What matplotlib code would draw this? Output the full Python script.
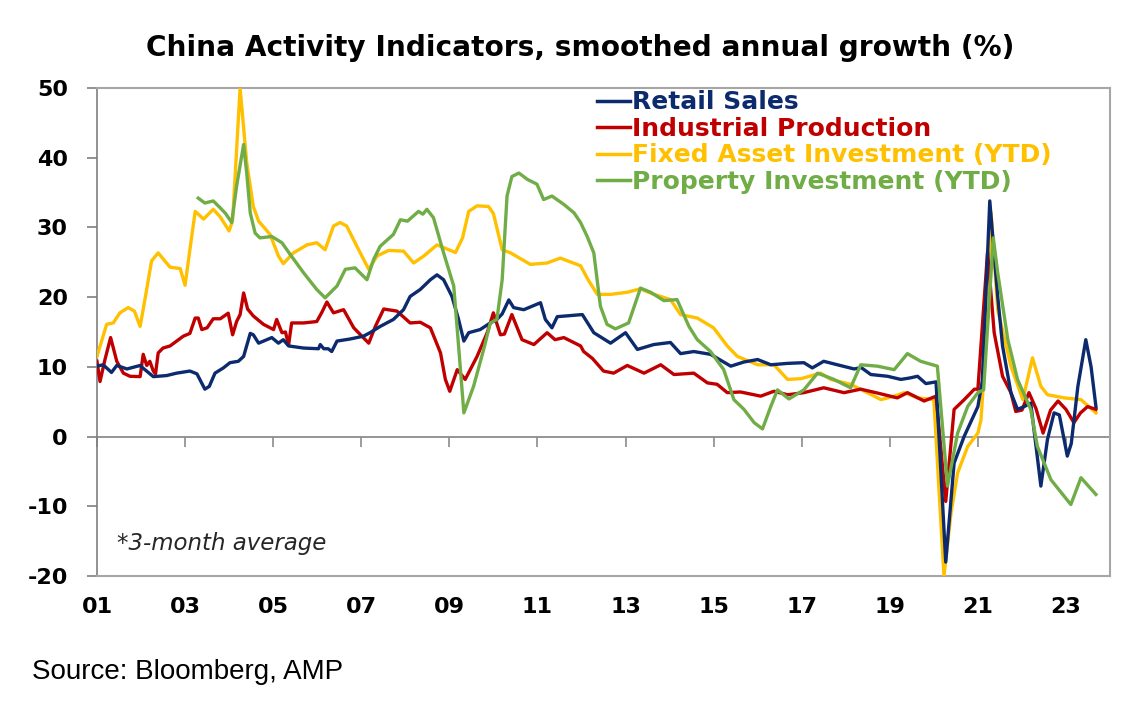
import matplotlib
matplotlib.use('Agg')
import matplotlib.pyplot as plt

plt.rcParams['font.family'] = ['Liberation Sans', 'DejaVu Sans']
plt.rcParams['axes.unicode_minus'] = False

# ---- data (decimal years, % y/y) ----
retail_t = [2001.0, 2001.14, 2001.33, 2001.45, 2001.68, 2001.98, 2002.05, 2002.28, 2002.58, 2002.81,
            2003.11, 2003.27, 2003.45, 2003.55, 2003.68, 2003.87, 2004.02, 2004.21, 2004.33, 2004.48,
            2004.55, 2004.67, 2004.97, 2005.12, 2005.23, 2005.35, 2005.69, 2006.03, 2006.07, 2006.15,
            2006.25, 2006.33, 2006.45, 2006.75, 2007.05, 2007.2, 2007.43, 2007.73, 2007.96, 2008.11,
            2008.34, 2008.57, 2008.72, 2008.87, 2009.06, 2009.21, 2009.33, 2009.44, 2009.7, 2009.93,
            2010.08, 2010.2, 2010.35, 2010.46, 2010.69, 2011.07, 2011.18, 2011.33, 2011.45, 2012.02,
            2012.28, 2012.66, 2013.0, 2013.27, 2013.64, 2014.02, 2014.25, 2014.55, 2014.93, 2015.39,
            2015.69, 2016.0, 2016.3, 2016.68, 2017.05, 2017.24, 2017.5, 2017.81, 2018.19, 2018.35,
            2018.57, 2018.95, 2019.25, 2019.45, 2019.63, 2019.82, 2020.05, 2020.1, 2020.27, 2020.46,
            2020.69, 2021.0, 2021.1, 2021.27, 2021.45, 2021.56, 2021.75, 2021.9, 2022.05, 2022.2,
            2022.43, 2022.58, 2022.73, 2022.85, 2023.03, 2023.12, 2023.27, 2023.45, 2023.57, 2023.68]
retail_v = [10.1, 10.3, 9.2, 10.2, 9.7, 10.2, 9.8, 8.6, 8.75, 9.1,
            9.4, 9.0, 6.8, 7.2, 9.1, 9.85, 10.6, 10.8, 11.5, 14.8,
            14.6, 13.4, 14.2, 13.4, 13.9, 13.0, 12.7, 12.6, 13.2, 12.6,
            12.6, 12.2, 13.7, 14.0, 14.4, 14.9, 15.8, 16.8, 18.2, 20.1,
            21.1, 22.5, 23.2, 22.5, 20.1, 16.8, 13.7, 14.9, 15.35, 16.3,
            16.8, 17.6, 19.6, 18.5, 18.2, 19.2, 16.8, 15.6, 17.2, 17.5,
            14.9, 13.4, 14.9, 12.5, 13.2, 13.5, 11.9, 12.2, 11.8, 10.1,
            10.7, 11.05, 10.3, 10.5, 10.6, 9.85, 10.8, 10.3, 9.7, 9.9,
            8.9, 8.65, 8.2, 8.4, 8.65, 7.6, 7.85, 2.0, -18.0, -3.8,
            0.05, 4.3, 8.0, 33.8, 20.1, 13.0, 6.3, 3.9, 4.3, 4.8,
            -7.1, -0.4, 3.4, 3.1, -2.8, -1.0, 7.2, 13.9, 10.0, 4.3]

ip_t = [2001.0, 2001.07, 2001.18, 2001.31, 2001.45, 2001.6, 2001.75, 2001.98, 2002.05, 2002.13,
        2002.2, 2002.28, 2002.33, 2002.39, 2002.5, 2002.66, 2002.96, 2003.11, 2003.23, 2003.3,
        2003.38, 2003.5, 2003.64, 2003.8, 2003.98, 2004.08, 2004.17, 2004.25, 2004.33, 2004.42,
        2004.55, 2004.78, 2005.01, 2005.08, 2005.2, 2005.28, 2005.35, 2005.42, 2005.69, 2005.99,
        2006.1, 2006.22, 2006.37, 2006.6, 2006.83, 2007.0, 2007.17, 2007.32, 2007.51, 2007.81,
        2008.11, 2008.34, 2008.57, 2008.8, 2008.91, 2009.01, 2009.18, 2009.36, 2009.63, 2009.86,
        2010.0, 2010.16, 2010.25, 2010.42, 2010.65, 2010.92, 2011.22, 2011.4, 2011.6, 2011.98,
        2012.05, 2012.25, 2012.5, 2012.73, 2013.04, 2013.42, 2013.8, 2014.1, 2014.55, 2014.86,
        2015.08, 2015.31, 2015.61, 2016.07, 2016.37, 2016.68, 2017.05, 2017.5, 2017.96, 2018.34,
        2018.75, 2019.17, 2019.4, 2019.78, 2020.05, 2020.27, 2020.46, 2020.69, 2020.92, 2021.0,
        2021.22, 2021.37, 2021.56, 2021.75, 2021.86, 2022.0, 2022.16, 2022.32, 2022.48, 2022.65,
        2022.82, 2023.0, 2023.18, 2023.33, 2023.49, 2023.68]
ip_v = [10.8, 7.9, 11.0, 14.2, 10.8, 9.1, 8.65, 8.6, 11.8, 10.2,
        10.8, 9.4, 9.0, 12.0, 12.7, 13.0, 14.4, 14.8, 17.0, 17.0,
        15.35, 15.6, 16.9, 16.9, 17.7, 14.6, 16.5, 17.5, 20.6, 18.3,
        17.3, 16.1, 15.35, 16.8, 14.9, 15.0, 13.1, 16.3, 16.3, 16.5,
        17.75, 19.3, 17.75, 18.2, 15.6, 14.5, 13.4, 15.8, 18.3, 18.0,
        16.3, 16.4, 15.6, 12.0, 8.2, 6.5, 9.6, 8.2, 11.5, 14.9,
        17.75, 14.6, 14.7, 17.5, 13.9, 13.2, 14.9, 13.9, 14.2, 13.0,
        12.2, 11.2, 9.4, 9.1, 10.2, 9.1, 10.3, 8.9, 9.1, 7.7,
        7.5, 6.3, 6.4, 5.8, 6.5, 6.0, 6.3, 7.0, 6.3, 6.8,
        6.2, 5.55, 6.3, 5.1, 5.8, -9.3, 3.9, 5.3, 6.8, 6.8,
        26.5, 14.9, 8.65, 6.3, 3.6, 3.8, 6.3, 4.0, 0.5, 3.8,
        5.1, 3.9, 2.0, 3.4, 4.3, 3.9]

fai_t = [2001.0, 2001.22, 2001.37, 2001.52, 2001.71, 2001.85, 2001.98, 2002.09, 2002.24, 2002.39,
         2002.5, 2002.66, 2002.89, 2003.0, 2003.11, 2003.23, 2003.42, 2003.64, 2003.8, 2004.0,
         2004.08, 2004.25, 2004.4, 2004.55, 2004.67, 2004.93, 2005.12, 2005.23, 2005.46, 2005.77,
         2005.99, 2006.18, 2006.37, 2006.52, 2006.67, 2006.9, 2007.17, 2007.36, 2007.62, 2007.96,
         2008.19, 2008.42, 2008.72, 2008.95, 2009.14, 2009.3, 2009.44, 2009.63, 2009.89, 2010.0,
         2010.2, 2010.39, 2010.84, 2011.22, 2011.52, 2011.98, 2012.15, 2012.36, 2012.66, 2013.04,
         2013.34, 2013.6, 2014.02, 2014.25, 2014.63, 2015.0, 2015.31, 2015.54, 2016.0, 2016.37,
         2016.68, 2016.98, 2017.43, 2017.66, 2018.11, 2018.49, 2018.8, 2019.1, 2019.33, 2019.63,
         2020.0, 2020.23, 2020.39, 2020.54, 2020.77, 2021.0, 2021.07, 2021.15, 2021.3, 2021.45,
         2021.75, 2022.02, 2022.24, 2022.43, 2022.58, 2022.96, 2023.34, 2023.68]
fai_v = [11.5, 16.1, 16.3, 17.75, 18.5, 18.0, 15.8, 19.7, 25.2, 26.35,
         25.5, 24.3, 24.1, 21.7, 26.8, 32.3, 31.2, 32.6, 31.5, 29.5,
         31.0, 50.0, 39.3, 33.0, 30.9, 29.0, 25.9, 24.8, 26.35, 27.5,
         27.8, 26.8, 30.2, 30.7, 30.2, 27.3, 24.0, 25.9, 26.7, 26.6,
         24.9, 25.9, 27.5, 26.9, 26.4, 28.5, 32.3, 33.1, 33.0, 32.0,
         26.8, 26.35, 24.7, 24.9, 25.6, 24.5, 22.5, 20.4, 20.4, 20.7,
         21.2, 20.5, 19.65, 17.5, 17.0, 15.6, 13.0, 11.5, 10.3, 10.3,
         8.2, 8.3, 9.1, 8.2, 7.5, 6.3, 5.3, 5.8, 6.3, 5.55,
         5.3, -20.0, -11.0, -5.2, -1.4, 0.5, 2.4, 10.0, 32.1, 18.2,
         10.1, 5.3, 11.3, 7.2, 6.0, 5.55, 5.3, 3.4]

prop_t = [2003.3, 2003.45, 2003.64, 2003.8, 2003.92, 2004.06, 2004.17, 2004.33, 2004.4, 2004.48,
          2004.59, 2004.7, 2004.97, 2005.2, 2005.39, 2005.69, 2005.99, 2006.18, 2006.37, 2006.45,
          2006.64, 2006.86, 2007.13, 2007.28, 2007.43, 2007.73, 2007.89, 2008.05, 2008.3, 2008.4,
          2008.49, 2008.64, 2008.87, 2009.1, 2009.21, 2009.33, 2009.55, 2009.78, 2009.93, 2010.08,
          2010.2, 2010.31, 2010.42, 2010.58, 2010.77, 2010.99, 2011.14, 2011.33, 2011.6, 2011.83,
          2011.98, 2012.13, 2012.28, 2012.43, 2012.58, 2012.77, 2013.07, 2013.34, 2013.57, 2013.87,
          2014.17, 2014.44, 2014.63, 2014.93, 2015.23, 2015.46, 2015.69, 2015.92, 2016.11, 2016.3,
          2016.45, 2016.71, 2017.05, 2017.36, 2017.73, 2018.11, 2018.34, 2018.72, 2019.1, 2019.4,
          2019.7, 2020.08, 2020.31, 2020.54, 2020.77, 2021.0, 2021.13, 2021.35, 2021.45, 2021.68,
          2021.9, 2022.2, 2022.35, 2022.66, 2023.11, 2023.34, 2023.68]
prop_v = [34.2, 33.5, 33.8, 32.8, 32.0, 30.7, 35.9, 41.9, 37.8, 32.1,
          29.2, 28.5, 28.7, 27.8, 26.1, 23.5, 21.1, 19.9, 21.1, 21.6,
          24.0, 24.2, 22.5, 25.4, 27.3, 29.0, 31.1, 30.9, 32.3, 31.9,
          32.6, 31.4, 26.35, 21.6, 13.0, 3.4, 7.2, 12.5, 16.3, 16.8,
          22.5, 34.5, 37.3, 37.8, 36.9, 36.2, 34.0, 34.5, 33.3, 32.1,
          30.7, 28.7, 26.35, 18.7, 16.1, 15.45, 16.3, 21.3, 20.7, 19.5,
          19.65, 15.8, 13.9, 12.2, 9.6, 5.3, 3.9, 2.0, 1.1, 4.35,
          6.7, 5.4, 6.7, 9.1, 8.2, 7.0, 10.3, 10.1, 9.6, 11.9,
          10.8, 10.1, -7.1, 0.5, 4.35, 6.3, 6.7, 28.5, 23.5, 13.9,
          8.2, 3.9, -1.4, -6.2, -9.75, -5.9, -8.3]

tick_years = list(range(2001, 2024, 2))
tick_labels = ['%02d' % (y % 100) for y in tick_years]

navy = '#0c2a6e'
red = '#c00000'
gold = '#ffc000'
green = '#70ad47'
frame = '#a6a6a6'
wide = 'DejaVu Sans'   # the original's labels are set wide, DejaVu matches the footprint

fig = plt.figure(figsize=(11.42, 7.04), dpi=100)
ax = fig.add_axes([0.0849, 0.1818, 0.8871, 0.6932])

ax.plot(retail_t, retail_v, color=navy, lw=2.4, label='Retail Sales', zorder=5)
ax.plot(ip_t, ip_v, color=red, lw=2.4, label='Industrial Production', zorder=4)
ax.plot(fai_t, fai_v, color=gold, lw=2.4, label='Fixed Asset Investment (YTD)', zorder=3)
ax.plot(prop_t, prop_v, color=green, lw=2.4, label='Property Investment (YTD)', zorder=6)

ax.set_xlim(2001, 2024)
ax.set_ylim(-20, 50)
ax.set_yticks(range(-20, 51, 10))
ax.set_xticks(tick_years)
ax.set_xticklabels(tick_labels, fontsize=16, fontweight='bold', family=wide)
ax.set_yticklabels([str(v) for v in range(-20, 51, 10)], fontsize=16,
                   fontweight='bold', family=wide)
ax.tick_params(axis='x', length=0, pad=15)
ax.tick_params(axis='y', direction='out', length=7, width=1.2, color='#7f7f7f', pad=14)

for s in ['top', 'right', 'bottom']:
    ax.spines[s].set_color(frame)
    ax.spines[s].set_linewidth(1.5)
ax.spines['left'].set_color('#7f7f7f')
ax.spines['left'].set_linewidth(1.2)

# zero line with downward ticks, excel style
ax.axhline(0, color='#8c8c8c', lw=1.3, zorder=2)
zero_ax = ax.secondary_xaxis(20 / 70)
zero_ax.set_xticks(tick_years)
zero_ax.set_xticklabels([])
zero_ax.tick_params(direction='out', length=7, width=1.2, color='#8c8c8c')
zero_ax.spines['bottom'].set_visible(False)

leg = ax.legend(loc='upper left', bbox_to_anchor=(0.4936, 0.995), frameon=False,
                labelcolor='linecolor', handlelength=1.3, handletextpad=0.1,
                labelspacing=0.1, borderpad=0, borderaxespad=0,
                prop={'family': wide, 'weight': 'bold', 'size': 18})
for line in leg.get_lines():
    line.set_linewidth(2.5)

ax.text(0.02, 0.066, '*3-month average', transform=ax.transAxes, fontsize=16.5,
        style='italic', family=wide, color='#262626', va='center')

fig.text(0.508, 0.932, 'China Activity Indicators, smoothed annual growth (%)',
         ha='center', va='center', fontsize=20.2, fontweight='bold', family=wide)
fig.text(0.028, 0.046, 'Source: Bloomberg, AMP', ha='left', va='center', fontsize=20)

fig.savefig('out.png', dpi=100)
